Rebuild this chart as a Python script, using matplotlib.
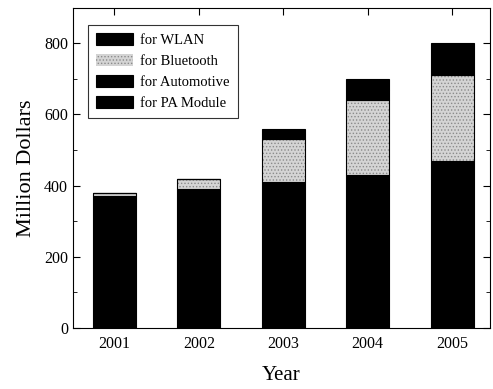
import matplotlib
matplotlib.use("Agg")
import matplotlib.pyplot as plt
import numpy as np

years = [2001, 2002, 2003, 2004, 2005]
wlan = [370, 390, 410, 430, 470]
bluetooth = [10, 30, 120, 210, 240]
automotive = [0, 0, 15, 30, 45]
pa_module = [0, 0, 15, 30, 45]

plt.rcParams['font.family'] = ['Liberation Serif', 'DejaVu Serif']
plt.rcParams['hatch.linewidth'] = 0.6

fig = plt.figure(figsize=(4.93, 3.89), dpi=100)
ax = fig.add_axes([0.148, 0.157, 0.846, 0.823])

w = 0.51
b1 = np.array(wlan)
b2 = b1 + np.array(bluetooth)
b3 = b2 + np.array(automotive)
ax.bar(years, wlan, width=w, color='black', edgecolor='black', linewidth=0.8, label='for WLAN')
ax.bar(years, bluetooth, width=w, bottom=b1, color='#d4d4d4', edgecolor='#8a8a8a', linewidth=0.0,
       hatch='.....', label='for Bluetooth')
ax.bar(years, bluetooth, width=w, bottom=b1, fill=False, edgecolor='black', linewidth=0.8)
ax.bar(years, automotive, width=w, bottom=b2, color='black', edgecolor='black', linewidth=0.8, label='for Automotive')
ax.bar(years, pa_module, width=w, bottom=b3, color='black', edgecolor='black', linewidth=0.8, label='for PA Module')

ax.set_xlim(2000.51, 2005.45)
ax.set_ylim(0, 900)
ax.set_xticks(years)
ax.set_xticklabels([str(y) for y in years])
ax.set_yticks([0, 200, 400, 600, 800])
ax.set_yticks([100, 300, 500, 700], minor=True)
ax.tick_params(axis='both', which='both', direction='in', top=True, right=True, labelsize=11.5)
ax.tick_params(axis='both', which='major', length=5)
ax.tick_params(axis='both', which='minor', length=3)
ax.tick_params(axis='x', pad=6)
ax.set_xlabel('Year', fontsize=15, labelpad=10)
ax.set_ylabel('Million Dollars', fontsize=16, labelpad=6)

leg = ax.legend(loc='upper left', fontsize=10.5, frameon=True, fancybox=False, edgecolor='black',
                handlelength=2.55, handleheight=0.85, labelspacing=0.5, borderpad=0.55,
                handletextpad=0.5, borderaxespad=0.3, bbox_to_anchor=(0.025, 0.96))
leg.get_frame().set_linewidth(0.8)

fig.savefig('out.png', dpi=100)
